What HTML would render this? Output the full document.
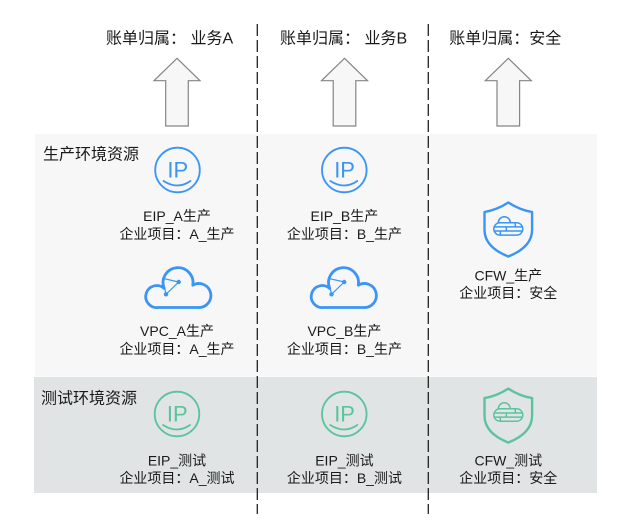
<!DOCTYPE html>
<html>
<head>
<meta charset="utf-8">
<style>
html,body{margin:0;padding:0;background:#fff;}
svg{display:block;}
text{font-family:"Liberation Sans","Noto Sans CJK SC",sans-serif;fill:#1a1a1a;}
.t16{font-size:16px;}
.t14{font-size:14px;text-anchor:middle;}
.ip{font-size:22px;text-anchor:middle;}
</style>
</head>
<body>
<svg width="643" height="531" viewBox="0 0 643 531" xmlns="http://www.w3.org/2000/svg">
  <rect width="643" height="531" fill="#ffffff"/>
  <!-- panels -->
  <rect x="35" y="134" width="562" height="242.5" fill="#f7f7f7"/>
  <rect x="34" y="377" width="563" height="116" fill="#e0e4e4"/>

  <!-- dashed separators -->
  <line x1="257.3" y1="24" x2="257.3" y2="514" stroke="#222" stroke-width="1.3" stroke-dasharray="12 4"/>
  <line x1="428.3" y1="24" x2="428.3" y2="514" stroke="#222" stroke-width="1.3" stroke-dasharray="12 4"/>

  <!-- titles -->
  <text class="t16" x="106" y="43.5">账单归属： 业务A</text>
  <text class="t16" x="280" y="43.5">账单归属： 业务B</text>
  <text class="t16" x="449.3" y="43.5">账单归属：安全</text>

  <!-- arrows -->
  <g fill="#f7f7f7" stroke="#858585" stroke-width="1.2" stroke-linejoin="miter">
    <polygon points="177,58.3 200,80.7 188.3,80.7 188.3,126 165.7,126 165.7,80.7 154,80.7"/>
    <polygon points="344.5,58.3 367.5,80.7 355.8,80.7 355.8,126 333.2,126 333.2,80.7 321.5,80.7"/>
    <polygon points="508.3,58.3 531.3,80.7 519.6,80.7 519.6,126 497,126 497,80.7 485.3,80.7"/>
  </g>

  <!-- section labels -->
  <text class="t16" x="43" y="159.5">生产环境资源</text>
  <text class="t16" x="41" y="403.5">测试环境资源</text>

  <!-- IP icons production (blue) -->
  <g stroke="#3a95f4" fill="none" stroke-width="1.8" stroke-linecap="round">
    <circle cx="177.5" cy="170" r="22.3"/>
    <path d="M163.5 181 Q177.5 190 190.5 181"/>
    <circle cx="344.3" cy="170" r="22.3"/>
    <path d="M330.3 181 Q344.3 190 357.3 181"/>
  </g>
  <text class="ip" x="177.8" y="177.3" style="fill:#3a95f4">IP</text>
  <text class="ip" x="344.6" y="177.3" style="fill:#3a95f4">IP</text>

  <!-- IP icons test (green) -->
  <g stroke="#5bc49c" fill="none" stroke-width="1.8" stroke-linecap="round">
    <circle cx="177" cy="414" r="22.3"/>
    <path d="M163 425 Q177 434 190 425"/>
    <circle cx="344.3" cy="414" r="22.3"/>
    <path d="M330.3 425 Q344.3 434 357.3 425"/>
  </g>
  <text class="ip" x="177.3" y="421.3" style="fill:#5bc49c">IP</text>
  <text class="ip" x="344.6" y="421.3" style="fill:#5bc49c">IP</text>

  <!-- VPC clouds -->
  <g id="cloudA" stroke="#3a95f4" fill="none">
    <path d="M158 307.5 L198 307.5 A 12 12 0 1 0 192.8 285.2 A 15 15 0 1 0 164.2 288.5 A 11 11 0 1 0 158 307.5 Z" stroke-width="2.8" stroke-linejoin="round"/>
    <polygon points="162.7,278.3 178.7,282 166,294.3" stroke-width="1.2" stroke-linejoin="round"/>
    <circle cx="178.7" cy="282" r="2.2" fill="#3a95f4" stroke="none"/>
    <circle cx="166" cy="294.3" r="2.2" fill="#3a95f4" stroke="none"/>
  </g>
  <g transform="translate(165.5,0)" stroke="#3a95f4" fill="none">
    <path d="M158 307.5 L198 307.5 A 12 12 0 1 0 192.8 285.2 A 15 15 0 1 0 164.2 288.5 A 11 11 0 1 0 158 307.5 Z" stroke-width="2.8" stroke-linejoin="round"/>
    <polygon points="162.7,278.3 178.7,282 166,294.3" stroke-width="1.2" stroke-linejoin="round"/>
    <circle cx="178.7" cy="282" r="2.2" fill="#3a95f4" stroke="none"/>
    <circle cx="166" cy="294.3" r="2.2" fill="#3a95f4" stroke="none"/>
  </g>

  <!-- CFW shields -->
  <g transform="translate(508.3,201.7)" stroke="#3a95f4" fill="none" stroke-linejoin="round">
    <path d="M0 0.8 C-8 6 -16 9 -23.8 10.3 V28 C-23.8 42 -12 50 0 54.8 C12 50 23.8 42 23.8 28 V10.3 C16 9 8 6 0 0.8 Z" stroke-width="2.4"/>
    <g stroke-width="1.5">
      <rect x="-14.5" y="21" width="29" height="12.4" rx="6.2"/>
      <path d="M-10 21 A 6 6 0 0 1 2 21"/>
      <line x1="-14" y1="25.2" x2="14" y2="25.2"/>
      <line x1="-14" y1="29.3" x2="14" y2="29.3"/>
      <line x1="7" y1="21" x2="7" y2="25.2"/>
      <line x1="-2" y1="25.2" x2="-2" y2="29.3"/>
      <line x1="-8" y1="29.3" x2="-8" y2="33.4"/>
    </g>
  </g>
  <g transform="translate(508.3,387.8)" stroke="#5bc49c" fill="none" stroke-linejoin="round">
    <path d="M0 0.8 C-8 6 -16 9 -23.8 10.3 V28 C-23.8 42 -12 50 0 54.8 C12 50 23.8 42 23.8 28 V10.3 C16 9 8 6 0 0.8 Z" stroke-width="2.4"/>
    <g stroke-width="1.5">
      <rect x="-14.5" y="21" width="29" height="12.4" rx="6.2"/>
      <path d="M-10 21 A 6 6 0 0 1 2 21"/>
      <line x1="-14" y1="25.2" x2="14" y2="25.2"/>
      <line x1="-14" y1="29.3" x2="14" y2="29.3"/>
      <line x1="7" y1="21" x2="7" y2="25.2"/>
      <line x1="-2" y1="25.2" x2="-2" y2="29.3"/>
      <line x1="-8" y1="29.3" x2="-8" y2="33.4"/>
    </g>
  </g>

  <!-- labels column A -->
  <text class="t14" x="177" y="221">EIP_A生产</text>
  <text class="t14" x="177" y="239">企业项目：A_生产</text>
  <text class="t14" x="177" y="336">VPC_A生产</text>
  <text class="t14" x="177" y="354">企业项目：A_生产</text>
  <text class="t14" x="177" y="465.5">EIP_测试</text>
  <text class="t14" x="177" y="483">企业项目：A_测试</text>

  <!-- labels column B -->
  <text class="t14" x="344.4" y="221">EIP_B生产</text>
  <text class="t14" x="344.4" y="239">企业项目：B_生产</text>
  <text class="t14" x="344.4" y="336">VPC_B生产</text>
  <text class="t14" x="344.4" y="354">企业项目：B_生产</text>
  <text class="t14" x="344.4" y="465.5">EIP_测试</text>
  <text class="t14" x="344.4" y="483">企业项目：B_测试</text>

  <!-- labels column C -->
  <text class="t14" x="508.3" y="280.5">CFW_生产</text>
  <text class="t14" x="508.3" y="298">企业项目：安全</text>
  <text class="t14" x="508.3" y="465.5">CFW_测试</text>
  <text class="t14" x="508.3" y="483">企业项目：安全</text>
</svg>
</body>
</html>
